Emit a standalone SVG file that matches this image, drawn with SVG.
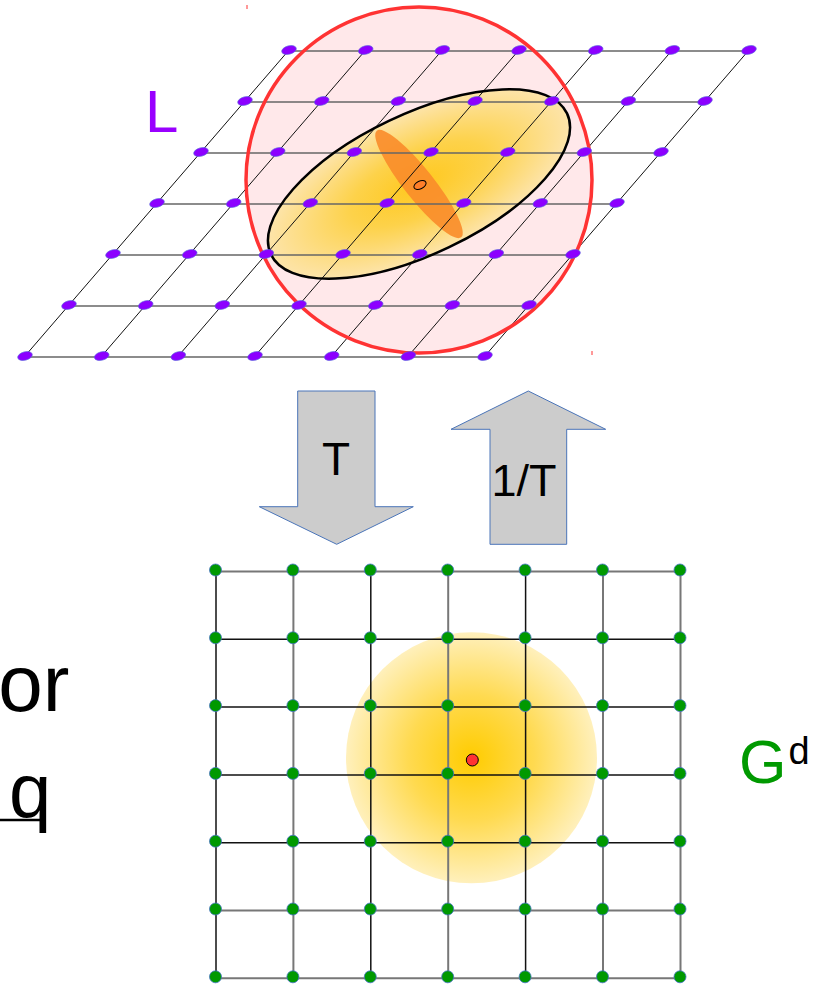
<svg xmlns="http://www.w3.org/2000/svg" xmlns:xlink="http://www.w3.org/1999/xlink" width="819" height="985" viewBox="0 0 819 985">
<defs>
<style>
.txt{font-family:"Liberation Sans",Arial,sans-serif}
.hl{stroke:#666;stroke-width:1.5;fill:none}
.dl{stroke:#111;stroke-width:1;fill:none}
.gg{stroke:#777;stroke-width:2;fill:none}
.gb{stroke:#111;stroke-width:1.5;fill:none}
.arrow{fill:#cccccc;stroke:#4a74b8;stroke-width:1}
</style>
<radialGradient id="ellG" cx="50%" cy="50%" r="50%">
<stop offset="0" stop-color="#ffc81e"/>
<stop offset="0.45" stop-color="#fdd24a"/>
<stop offset="1" stop-color="#fde4aa"/>
</radialGradient>
<radialGradient id="gG" cx="50%" cy="50%" r="50%">
<stop offset="0" stop-color="#ffcc00"/>
<stop offset="0.5" stop-color="#ffda50"/>
<stop offset="1" stop-color="#fff0bc"/>
</radialGradient>
<ellipse id="pd" rx="7.5" ry="4.2" transform="rotate(-15)" fill="#8c00ff" stroke="#5a66dd" stroke-width="0.6"/>
<circle id="gd" r="6" fill="#009900" stroke="#4472c4" stroke-width="0.8"/>
</defs>
<rect width="819" height="985" fill="#ffffff"/>

<g id="lattice-L">
<circle cx="419" cy="180" r="173" fill="#ffe8ea"/>
<ellipse cx="419" cy="184" rx="164" ry="70" transform="rotate(-25.5 419 184)" fill="url(#ellG)"/>
<ellipse cx="419" cy="184" rx="68" ry="15" transform="rotate(51.7 419 184)" fill="#fa8c2a" opacity="0.9"/>
<g id="lattice-lines">
<line class="hl" x1="25" y1="357" x2="485" y2="357"/>
<line class="hl" x1="69" y1="306" x2="529" y2="306"/>
<line class="hl" x1="113" y1="255" x2="573" y2="255"/>
<line class="hl" x1="157" y1="204" x2="617" y2="204"/>
<line class="hl" x1="201" y1="153" x2="661" y2="153"/>
<line class="hl" x1="245" y1="102" x2="705" y2="102"/>
<line class="hl" x1="289" y1="51" x2="749" y2="51"/>
<line class="dl" x1="25" y1="356" x2="289" y2="50"/>
<line class="dl" x1="101.7" y1="356" x2="365.7" y2="50"/>
<line class="dl" x1="178.3" y1="356" x2="442.3" y2="50"/>
<line class="dl" x1="255" y1="356" x2="519" y2="50"/>
<line class="dl" x1="331.7" y1="356" x2="595.7" y2="50"/>
<line class="dl" x1="408.3" y1="356" x2="672.3" y2="50"/>
<line class="dl" x1="485" y1="356" x2="749" y2="50"/>
</g>
<circle cx="419" cy="180" r="173" fill="none" stroke="#ff3333" stroke-width="3.5"/>
<ellipse cx="419" cy="184" rx="164" ry="70" transform="rotate(-25.5 419 184)" fill="none" stroke="#000" stroke-width="2.5"/>
<g id="lattice-dots">
<use xlink:href="#pd" x="25" y="356"/><use xlink:href="#pd" x="101.7" y="356"/><use xlink:href="#pd" x="178.3" y="356"/><use xlink:href="#pd" x="255" y="356"/><use xlink:href="#pd" x="331.7" y="356"/><use xlink:href="#pd" x="408.3" y="356"/><use xlink:href="#pd" x="485" y="356"/>
<use xlink:href="#pd" x="69" y="305"/><use xlink:href="#pd" x="145.7" y="305"/><use xlink:href="#pd" x="222.3" y="305"/><use xlink:href="#pd" x="299" y="305"/><use xlink:href="#pd" x="375.7" y="305"/><use xlink:href="#pd" x="452.3" y="305"/><use xlink:href="#pd" x="529" y="305"/>
<use xlink:href="#pd" x="113" y="254"/><use xlink:href="#pd" x="189.7" y="254"/><use xlink:href="#pd" x="266.3" y="254"/><use xlink:href="#pd" x="343" y="254"/><use xlink:href="#pd" x="419.7" y="254"/><use xlink:href="#pd" x="496.3" y="254"/><use xlink:href="#pd" x="573" y="254"/>
<use xlink:href="#pd" x="157" y="203"/><use xlink:href="#pd" x="233.7" y="203"/><use xlink:href="#pd" x="310.3" y="203"/><use xlink:href="#pd" x="387" y="203"/><use xlink:href="#pd" x="463.7" y="203"/><use xlink:href="#pd" x="540.3" y="203"/><use xlink:href="#pd" x="617" y="203"/>
<use xlink:href="#pd" x="201" y="152"/><use xlink:href="#pd" x="277.7" y="152"/><use xlink:href="#pd" x="354.3" y="152"/><use xlink:href="#pd" x="431" y="152"/><use xlink:href="#pd" x="507.7" y="152"/><use xlink:href="#pd" x="584.3" y="152"/><use xlink:href="#pd" x="661" y="152"/>
<use xlink:href="#pd" x="245" y="101"/><use xlink:href="#pd" x="321.7" y="101"/><use xlink:href="#pd" x="398.3" y="101"/><use xlink:href="#pd" x="475" y="101"/><use xlink:href="#pd" x="551.7" y="101"/><use xlink:href="#pd" x="628.3" y="101"/><use xlink:href="#pd" x="705" y="101"/>
<use xlink:href="#pd" x="289" y="50"/><use xlink:href="#pd" x="365.7" y="50"/><use xlink:href="#pd" x="442.3" y="50"/><use xlink:href="#pd" x="519" y="50"/><use xlink:href="#pd" x="595.7" y="50"/><use xlink:href="#pd" x="672.3" y="50"/><use xlink:href="#pd" x="749" y="50"/>
</g>
<ellipse cx="420" cy="185" rx="6.5" ry="3.8" transform="rotate(-25 420 185)" fill="#ff7f2a" stroke="#000" stroke-width="1"/>
<line x1="247" y1="5" x2="247" y2="9" stroke="#ff3333" stroke-width="1"/>
<line x1="592" y1="351" x2="592" y2="355" stroke="#ff3333" stroke-width="1"/>
</g>

<g id="label-L"><text class="txt" x="145" y="132" font-size="60" fill="#9900ff">L</text></g>

<g id="arrow-T">
<polygon class="arrow" points="297.7,391 375,391 375,506.7 413.3,506.7 336.7,544.3 259.3,506.7 297.7,506.7"/>
<text class="txt" x="336" y="475" font-size="46" text-anchor="middle" fill="#000">T</text>
</g>
<g id="arrow-invT">
<polygon class="arrow" points="528.3,391 605.7,429.3 566.7,429.3 566.7,544.3 490,544.3 490,429.3 451,429.3"/>
<text class="txt" x="524" y="496" font-size="45" text-anchor="middle" fill="#000">1/T</text>
</g>

<g id="grid-G">
<circle cx="471.5" cy="757.8" r="125.5" fill="url(#gG)"/>
<g id="grid-lines">
<line class="gg" x1="215.5" y1="571.5" x2="680" y2="571.5"/>
<line class="gb" x1="215.5" y1="639.3" x2="680" y2="639.3"/>
<line class="gb" x1="215.5" y1="707.1" x2="680" y2="707.1"/>
<line class="gb" x1="215.5" y1="774.9" x2="680" y2="774.9"/>
<line class="gb" x1="215.5" y1="842.7" x2="680" y2="842.7"/>
<line class="gg" x1="215.5" y1="910.5" x2="680" y2="910.5"/>
<line class="gg" x1="215.5" y1="978.3" x2="680" y2="978.3"/>
<line class="gb" x1="216" y1="570" x2="216" y2="976.8"/>
<line class="gg" x1="293.4" y1="570" x2="293.4" y2="976.8"/>
<line class="gb" x1="370.8" y1="570" x2="370.8" y2="976.8"/>
<line class="gg" x1="448.2" y1="570" x2="448.2" y2="976.8"/>
<line class="gb" x1="525.6" y1="570" x2="525.6" y2="976.8"/>
<line class="gg" x1="603" y1="570" x2="603" y2="976.8"/>
<line class="gg" x1="680.5" y1="570" x2="680.5" y2="976.8"/>
</g>
<g id="grid-dots">
<use xlink:href="#gd" x="215.5" y="570"/><use xlink:href="#gd" x="292.9" y="570"/><use xlink:href="#gd" x="370.3" y="570"/><use xlink:href="#gd" x="447.7" y="570"/><use xlink:href="#gd" x="525.1" y="570"/><use xlink:href="#gd" x="602.5" y="570"/><use xlink:href="#gd" x="680" y="570"/>
<use xlink:href="#gd" x="215.5" y="637.8"/><use xlink:href="#gd" x="292.9" y="637.8"/><use xlink:href="#gd" x="370.3" y="637.8"/><use xlink:href="#gd" x="447.7" y="637.8"/><use xlink:href="#gd" x="525.1" y="637.8"/><use xlink:href="#gd" x="602.5" y="637.8"/><use xlink:href="#gd" x="680" y="637.8"/>
<use xlink:href="#gd" x="215.5" y="705.6"/><use xlink:href="#gd" x="292.9" y="705.6"/><use xlink:href="#gd" x="370.3" y="705.6"/><use xlink:href="#gd" x="447.7" y="705.6"/><use xlink:href="#gd" x="525.1" y="705.6"/><use xlink:href="#gd" x="602.5" y="705.6"/><use xlink:href="#gd" x="680" y="705.6"/>
<use xlink:href="#gd" x="215.5" y="773.4"/><use xlink:href="#gd" x="292.9" y="773.4"/><use xlink:href="#gd" x="370.3" y="773.4"/><use xlink:href="#gd" x="447.7" y="773.4"/><use xlink:href="#gd" x="525.1" y="773.4"/><use xlink:href="#gd" x="602.5" y="773.4"/><use xlink:href="#gd" x="680" y="773.4"/>
<use xlink:href="#gd" x="215.5" y="841.2"/><use xlink:href="#gd" x="292.9" y="841.2"/><use xlink:href="#gd" x="370.3" y="841.2"/><use xlink:href="#gd" x="447.7" y="841.2"/><use xlink:href="#gd" x="525.1" y="841.2"/><use xlink:href="#gd" x="602.5" y="841.2"/><use xlink:href="#gd" x="680" y="841.2"/>
<use xlink:href="#gd" x="215.5" y="909"/><use xlink:href="#gd" x="292.9" y="909"/><use xlink:href="#gd" x="370.3" y="909"/><use xlink:href="#gd" x="447.7" y="909"/><use xlink:href="#gd" x="525.1" y="909"/><use xlink:href="#gd" x="602.5" y="909"/><use xlink:href="#gd" x="680" y="909"/>
<use xlink:href="#gd" x="215.5" y="976.8"/><use xlink:href="#gd" x="292.9" y="976.8"/><use xlink:href="#gd" x="370.3" y="976.8"/><use xlink:href="#gd" x="447.7" y="976.8"/><use xlink:href="#gd" x="525.1" y="976.8"/><use xlink:href="#gd" x="602.5" y="976.8"/><use xlink:href="#gd" x="680" y="976.8"/>
</g>
<circle cx="472.3" cy="760" r="6" fill="#ff3333" stroke="#000" stroke-width="1"/>
</g>

<g id="label-Gd">
<text class="txt" x="739" y="783" font-size="61" fill="#009900">G</text>
<text class="txt" x="788.5" y="764" font-size="38" fill="#000">d</text>
</g>

<g id="left-text">
<text class="txt" x="-24" y="711" font-size="80" fill="#000">for</text>
<text class="txt" x="9" y="817" font-size="76" fill="#000">q</text>
<line x1="0" y1="820" x2="46" y2="820" stroke="#000" stroke-width="2.5"/>
</g>
</svg>
